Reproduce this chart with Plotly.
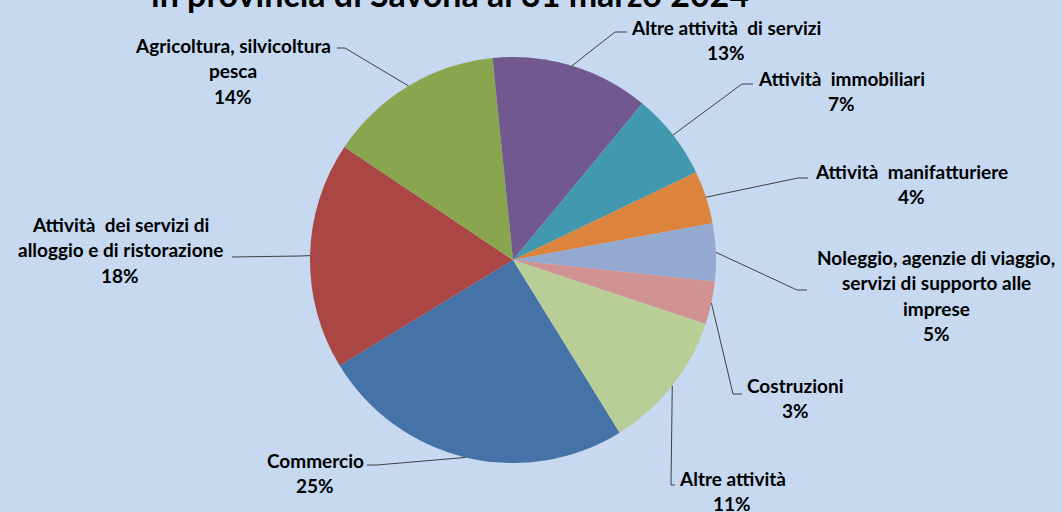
import math
import plotly.graph_objects as go

W, H = 1062, 512

# Data (Excel series order)
categories = [
    "Commercio",
    "Attività dei servizi di alloggio e di ristorazione",
    "Agricoltura, silvicoltura pesca",
    "Altre attività di servizi",
    "Attività immobiliari",
    "Attività manifatturiere",
    "Noleggio, agenzie di viaggio, servizi di supporto alle imprese",
    "Costruzioni",
    "Altre attività",
]
values = [25.1, 18.1, 14.0, 12.6, 6.9, 4.2, 4.6, 3.4, 11.1]
label_lines = [
    ["Commercio"],
    ["Attività  dei servizi di", "alloggio e di ristorazione"],
    ["Agricoltura, silvicoltura", "pesca"],
    ["Altre attività  di servizi"],
    ["Attività  immobiliari"],
    ["Attività  manifatturiere"],
    ["Noleggio, agenzie di viaggio,", "servizi di supporto alle", "imprese"],
    ["Costruzioni"],
    ["Altre attività"],
]
colors = ["#4572A7", "#AA4643", "#89A54E", "#71588F", "#4198AF",
          "#DB843D", "#93A9CF", "#D19392", "#B9CD96"]

# Layout positions (pixels)
CX, CY, R = 513, 260, 203
ROTATION = 148.3
label_pos = [  # (center x, first line center y)
    (315, 460), (120, 224), (233, 45), (726, 27), (841, 78),
    (911, 171), (936, 257), (795, 385), (732, 478),
]
leader = [  # (elbow, end) in pixels
    ((377, 465), (367, 465)),
    ((300, 256), (232, 257)),
    ((345, 48), (337, 48)),
    ((615, 32), (627, 32)),
    ((742, 84), (753, 84)),
    ((798, 178), (808, 178)),
    ((797, 290), (807, 290)),
    ((733, 394), (742, 394)),
    ((671, 485), (675, 485)),
]
LINE_H = 25.6
BG = "#C6D9F0"
FONT = "Lato"
LABEL_SIZE = 19


def px(x):
    return x / W


def py(y):
    return 1 - y / H


fig = go.Figure()
fig.add_trace(go.Pie(
    labels=categories,
    values=values,
    sort=False,
    direction="clockwise",
    rotation=ROTATION,
    marker=dict(colors=colors, line=dict(width=0)),
    textinfo="none",
    hoverinfo="label+percent",
    showlegend=False,
    domain=dict(x=[px(CX - R), px(CX + R)], y=[py(CY + R), py(CY - R)]),
))

total = sum(values)
annotations = []
shapes = []
cum = 0.0
for i, v in enumerate(values):
    mid = math.radians(ROTATION + (cum + v / 2) / total * 360)
    cum += v
    ex = CX + R * math.sin(mid)
    ey = CY - R * math.cos(mid)
    (bx, by), (tx, ty) = leader[i]
    path = f"M {px(ex)},{py(ey)} L {px(bx)},{py(by)} L {px(tx)},{py(ty)}"
    shapes.append(dict(type="path", xref="paper", yref="paper", path=path,
                       line=dict(color="#404040", width=1)))
    lx, ly = label_pos[i]
    lines = label_lines[i] + [f"{round(v / total * 100)}%"]
    for j, t in enumerate(lines):
        annotations.append(dict(
            x=px(lx), y=py(ly + j * LINE_H), xref="paper", yref="paper",
            text=f"<b>{t}</b>", showarrow=False, xanchor="center", yanchor="middle",
            font=dict(family=FONT, size=LABEL_SIZE, color="black"),
        ))

annotations.append(dict(
    x=px(450), y=py(-7), xref="paper", yref="paper",
    text="<b>in provincia di Savona al 31 marzo 2024</b>", showarrow=False,
    xanchor="center", yanchor="middle",
    font=dict(family=FONT, size=34, color="black"),
))

fig.update_layout(
    width=W, height=H,
    margin=dict(l=0, r=0, t=0, b=0),
    paper_bgcolor=BG, plot_bgcolor=BG,
    annotations=annotations, shapes=shapes,
)

fig.write_html(
    "out.html",
    config={"displayModeBar": False},
    post_script="document.body.style.margin='0';document.body.style.padding='0';"
                "document.body.style.overflow='hidden';",
)
